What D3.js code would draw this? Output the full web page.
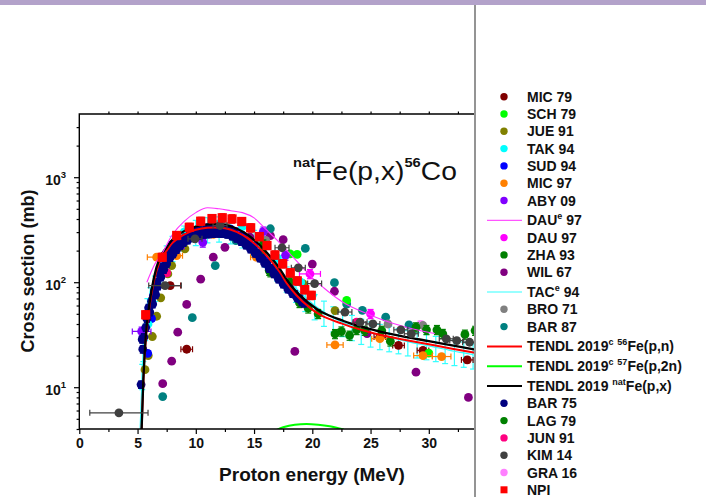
<!DOCTYPE html>
<html lang="en">
<head>
<meta charset="UTF-8">
<script src="https://cdnjs.cloudflare.com/ajax/libs/d3/7.8.5/d3.min.js"></script>
<title>natFe(p,x)56Co</title>
<style>
  body { margin: 0; background: #fff; }
  svg { display: block; font-family: Arial, "Liberation Sans", sans-serif; }
</style>
</head>
<body>
<svg width="706" height="497"></svg>
<script>
// ---- data: [energy MeV, cross section mb, (dE MeV)] ----
var MIC_79 = [[7.8, 93, 0.9], [9.22, 23], [25.8, 30], [27.4, 25], [29.5, 22.4], [33.3, 18.2]];
var SCH_79 = [[13.3, 298], [18.1, 186], [18.7, 184], [22.95, 67], [30.0, 21.1]];
var JUE_91 = [[5.64, 14.7], [5.92, 20], [6.27, 30.4], [6.64, 47.4], [6.99, 71], [7.6, 120], [7.93, 144],
              [9.07, 208], [10.5, 262], [12, 292], [19.2, 97], [21.95, 53.7]];
var TAK_94 = [[5.9, 40], [6.4, 80], [9, 300], [12, 360], [14, 340], [15.5, 262], [17, 170], [19, 100], [20, 75]];
var SUD_94 = [[5.87, 21], [6.2, 45], [6.35, 74], [6.6, 95], [7, 140], [8, 230], [9, 280], [10, 310], [11, 330],
              [12, 335], [13, 320], [14, 280], [15, 220], [16, 160], [17, 115]];
var MIC_97 = [[6.64, 173, 0.8], [8.36, 179, 0.5], [11.5, 285, 0.6], [12.9, 295, 0.6], [15.2, 173, 0.5],
              [21.95, 25.3, 0.7], [25.8, 29, 0.7], [29.5, 20, 0.8], [31.1, 19.6, 0.8]];
var ABY_09 = [[5.35, 34, 0.8], [8.8, 232], [10.6, 240], [13.5, 300], [15.8, 305], [17.7, 180]];
var DAU_97 = [[19.8, 120, 0.9], [25.0, 50]];
var ZHA_93 = [[21.95, 32.2], [22.5, 34.1], [23.2, 31.1], [23.8, 35.2], [24.5, 34.6], [25.96, 34.6], [26.7, 27.4],
              [28.9, 37.3], [29.8, 35.2], [30.7, 35.2], [31.2, 32.3], [33.1, 31.8], [33.97, 34.6]];
var WIL_67 = [[7.16, 10.8], [7.93, 17.7], [8.45, 33.4], [9.22, 61.4], [10.42, 107], [11.5, 173], [12.5, 215],
              [14.65, 269], [16.4, 278], [17.5, 254], [18.5, 21.9], [20.0, 149], [21.9, 82], [24.7, 32.4],
              [28.9, 13.9], [33.4, 8]];
var BRO_71 = [[12.6, 340], [16, 250], [26.5, 40], [29.5, 38.7]];
var BAR_87 = [[7.16, 8.15], [9.7, 46], [11.67, 144], [13.45, 249], [16.4, 323], [19.4, 210], [21.9, 99],
              [22.95, 62], [24.3, 54], [26.3, 46.5], [28.3, 39.3]];
var BAR_75 = [[5.3, 10.6], [5.4, 28.5], [5.45, 23], [5.55, 30], [5.7, 37], [5.8, 45], [5.95, 57], [6.05, 52],
              [6.2, 66], [6.3, 62], [6.45, 83], [6.55, 76], [6.65, 100], [6.75, 92], [6.9, 120], [7.0, 112],
              [7.15, 140], [7.25, 132], [7.4, 165], [7.5, 150], [7.65, 182], [7.8, 172], [7.9, 198], [8.05, 186],
              [8.2, 218], [8.35, 204], [8.5, 236], [8.65, 222], [8.8, 252], [8.95, 238], [9.1, 266], [9.3, 252],
              [9.45, 280], [9.6, 264], [9.8, 292], [9.95, 272], [10.1, 302], [10.3, 280], [10.5, 310], [10.7, 285],
              [10.9, 318], [11.1, 288], [11.3, 322], [11.5, 290], [11.7, 325], [11.9, 292], [12.1, 322], [12.3, 290],
              [12.5, 318], [12.7, 285], [12.9, 305], [13.1, 275], [13.3, 292], [13.5, 262], [13.7, 272], [13.9, 244],
              [14.1, 250], [14.3, 226], [14.5, 230], [14.7, 207], [14.9, 210], [15.1, 188], [15.3, 190], [15.5, 170],
              [15.7, 170], [15.9, 152], [16.1, 152], [16.3, 135], [16.5, 136], [16.7, 120], [16.9, 121], [17.1, 107],
              [17.3, 108], [17.5, 96], [17.7, 96], [17.9, 86], [18.1, 86], [18.3, 78], [18.5, 77], [18.7, 71],
              [18.9, 70], [19.1, 65], [19.3, 63]];
var LAG_79 = [[15.7, 193], [15.8, 230], [16.3, 129], [16.4, 125], [17.1, 112], [18.1, 100], [18.9, 63.7],
              [19.65, 56.5], [20.5, 50]];
var JUN_91 = [[7.5, 123], [23.8, 41.6]];
var KIM_14 = [[3.4, 5.7, 2.5], [7.36, 93, 1.4], [9.93, 259, 0.6], [12.08, 347, 0.6], [17.4, 213, 0.6],
              [18.8, 137, 0.6], [20.2, 97, 0.6], [22.8, 52, 0.6], [24.1, 41.6], [25.2, 40.1], [27.6, 35.2],
              [28.5, 32.3], [31.5, 28.9], [32.4, 27.8], [33.5, 26.8]];
var GRA_16 = [[29.3, 39.5]];
var NPI = [[5.7, 49], [7.12, 173], [8.36, 279], [9.44, 334], [10.42, 381], [11.39, 404], [12.27, 411],
           [13.11, 401], [13.94, 379], [14.71, 330], [15.45, 272], [16.11, 224], [16.79, 182], [17.46, 150],
           [18.11, 123], [18.71, 103], [19.35, 85], [19.91, 75]];

// curves
var DAU_E_97 = [[5.8, 100], [6.5, 150], [7, 180], [8, 285], [9, 380], [10, 460], [11, 512], [12, 500], [13, 480],
                [14, 460], [15, 410], [16, 320], [17, 250], [18, 190], [19, 145], [20, 110], [21, 88], [22, 72],
                [23, 61], [24, 54], [26, 44], [28, 37.5], [30.5, 32.5]];
var TAC_E_94 = [[5.22, 4], [5.3, 7], [5.4, 13], [5.5, 24], [5.65, 38], [5.85, 55], [6.1, 70], [6.5, 90], [7, 130],
                [7.5, 175], [8, 215], [9, 270], [10, 305], [11, 325], [12, 330], [13, 318], [14, 290], [15, 245],
                [16, 190], [17, 140], [17.8, 110], [18.6, 88], [19.4, 72], [20.2, 60], [21, 52], [21.8, 46],
                [22.6, 41.5], [23.4, 38], [24.2, 35], [25, 33], [25.8, 31.2], [26.6, 29.8], [27.4, 28.5],
                [28.2, 27.2], [29, 26], [29.8, 25], [30.6, 24], [31.4, 23], [32.2, 22], [33, 21.2], [33.8, 20.4]];
var TENDL_56 = [[5.35, 4], [5.5, 11.5], [5.7, 28], [6, 56], [6.4, 102], [6.9, 158], [7.5, 200], [8, 237],
                [8.6, 268], [9.5, 302], [10.5, 325], [11.5, 332], [12.5, 327], [13.5, 302], [14.5, 260],
                [15.5, 209], [16.5, 158], [17.2, 125], [17.8, 98], [18.6, 76], [19.8, 57], [20.8, 48],
                [21.5, 44.5], [22.5, 40.5], [23.2, 38], [24.5, 34.5], [26, 31.2], [28.1, 28], [30, 25.6],
                [32, 23.3], [34, 21.3]];
var TENDL_57 = [[16.9, 3.9], [17.5, 4.15], [18.5, 4.4], [19.5, 4.47], [20.5, 4.4], [21.5, 4.25], [22.7, 3.95]];
var TENDL_NAT = [[5.35, 4], [5.5, 12], [5.7, 30], [6, 60], [6.4, 110], [6.9, 170], [7.5, 215], [8, 255],
                 [8.6, 289], [9.5, 325], [10.5, 350], [11.5, 358], [12.5, 352], [13.5, 325], [14.5, 280],
                 [15.5, 225], [16.5, 170], [17.2, 135], [17.8, 106], [18.6, 82], [19.8, 62], [20.8, 52],
                 [21.5, 48], [22.5, 43.5], [23.2, 40.7], [24.5, 37], [26, 33.5], [28.1, 30], [30, 27.5],
                 [32, 25], [34, 22.8]];

var xTicks = [0, 5, 10, 15, 20, 25, 30];
var yTicks = [10, 100, 1000];

// legend entries: label parts [text, superscript?]
var legendItems = [
    { parts: [["MIC 79"]], type: "dot", color: "#800000" },
    { parts: [["SCH 79"]], type: "dot", color: "#00ff00" },
    { parts: [["JUE 91"]], type: "dot", color: "#808000" },
    { parts: [["TAK 94"]], type: "dot", color: "#00ffff" },
    { parts: [["SUD 94"]], type: "dot", color: "#0000ff" },
    { parts: [["MIC 97"]], type: "dot", color: "#ff8000" },
    { parts: [["ABY 09"]], type: "dot", color: "#8000ff" },
    { parts: [["DAU"], ["e", 1], [" 97"]], type: "line", color: "#ff55ff", w: 1.2 },
    { parts: [["DAU 97"]], type: "dot", color: "#ff00ff" },
    { parts: [["ZHA 93"]], type: "dot", color: "#008000" },
    { parts: [["WIL 67"]], type: "dot", color: "#800080" },
    { parts: [["TAC"], ["e", 1], [" 94"]], type: "line", color: "#33ffff", w: 1.2 },
    { parts: [["BRO 71"]], type: "dot", color: "#808080" },
    { parts: [["BAR 87"]], type: "dot", color: "#008080" },
    { parts: [["TENDL 2019"], ["c", 1], [" "], ["56", 1], ["Fe(p,n)"]], type: "line", color: "#ff0000", w: 2 },
    { parts: [["TENDL 2019"], ["c", 1], [" "], ["57", 1], ["Fe(p,2n)"]], type: "line", color: "#00ff00", w: 2 },
    { parts: [["TENDL 2019 "], ["nat", 1], ["Fe(p,x)"]], type: "line", color: "#000000", w: 2 },
    { parts: [["BAR 75"]], type: "dot", color: "#000080" },
    { parts: [["LAG 79"]], type: "dot", color: "#008000" },
    { parts: [["JUN 91"]], type: "dot", color: "#ff0080" },
    { parts: [["KIM 14"]], type: "dot", color: "#404040" },
    { parts: [["GRA 16"]], type: "dot", color: "#ff80ff" },
    { parts: [["NPI"]], type: "square", color: "#ff0000" }
];

var svg = d3.select("svg");
// plot frame edges (window.top is reserved, so prefixed names)
var pLeft = 79.3, pRight = 474, pTop = 114, pBottom = 429;

var x = d3.scaleLinear().domain([0, 35]).range([pLeft, pLeft + 35 * 11.65]);
var y = d3.scaleLog().domain([4, 4000]).range([pBottom, pTop]);

// header band and divider
svg.append("rect").attr("x", 0).attr("y", 0).attr("width", 706).attr("height", 5).attr("fill", "#b3a2ca");
svg.append("line").attr("x1", 475).attr("x2", 475).attr("y1", 5).attr("y2", 497)
    .attr("stroke", "#707070").attr("stroke-width", 1.5);

svg.append("clipPath").attr("id", "plotclip")
    .append("rect").attr("x", pLeft).attr("y", pTop).attr("width", pRight - pLeft).attr("height", pBottom - pTop);

var plot = svg.append("g").attr("clip-path", "url(#plotclip)");
var line = d3.line().x(d => x(d[0])).y(d => y(d[1])).curve(d3.curveMonotoneX);
var R = 4.4;

function errorBars(g, data, color, rel, dx) {
    var eb = g.append("g").attr("stroke", color).attr("stroke-width", 1.2).attr("fill", "none");
    data.forEach(d => {
        var cx = x(d[0]), cy = y(d[1]);
        if (rel > 0) {
            var y1 = y(d[1] * (1 + rel)), y2 = y(d[1] * (1 - rel));
            eb.append("line").attr("x1", cx).attr("x2", cx).attr("y1", y1).attr("y2", y2);
            eb.append("line").attr("x1", cx - 3).attr("x2", cx + 3).attr("y1", y1).attr("y2", y1);
            eb.append("line").attr("x1", cx - 3).attr("x2", cx + 3).attr("y1", y2).attr("y2", y2);
        }
        var h = d[2] !== undefined ? d[2] : dx;
        if (h > 0) {
            var x1 = x(d[0] - h), x2 = x(d[0] + h);
            eb.append("line").attr("x1", x1).attr("x2", x2).attr("y1", cy).attr("y2", cy);
            eb.append("line").attr("x1", x1).attr("x2", x1).attr("y1", cy - 3).attr("y2", cy + 3);
            eb.append("line").attr("x1", x2).attr("x2", x2).attr("y1", cy - 3).attr("y2", cy + 3);
        }
    });
}

function dots(data, color, rel, dx) {
    var g = plot.append("g");
    errorBars(g, data, color, rel, dx);
    g.selectAll("circle").data(data).enter().append("circle")
        .attr("cx", d => x(d[0])).attr("cy", d => y(d[1])).attr("r", R).attr("fill", color);
}

function curve(data, color, w) {
    plot.append("path").datum(data).attr("d", line)
        .attr("fill", "none").attr("stroke", color).attr("stroke-width", w);
}

// TAC^e 94 with its uncertainty bars
errorBars(plot.append("g"), TAC_E_94.filter(d => d[0] >= 5.4), "#33ffff", 0.27, 0);
curve(TAC_E_94, "#33ffff", 1.2);

dots(WIL_67, "#800080", 0, 0);
dots(BAR_87, "#008080", 0, 0);
dots(MIC_79, "#800000", 0.06, 0.5);
dots(JUE_91, "#808000", 0, 0);
dots(SCH_79, "#00ff00", 0, 0);
dots(MIC_97, "#ff8000", 0.05, 0);
dots(ABY_09, "#8000ff", 0.1, 0);
dots(SUD_94, "#0000ff", 0.06, 0);
dots(TAK_94, "#00ffff", 0.06, 0);
dots(JUN_91, "#ff0080", 0.06, 0);
dots(GRA_16, "#ff80ff", 0.08, 0);
dots(BRO_71, "#808080", 0.06, 0);
dots(ZHA_93, "#008000", 0.1, 0);
dots(LAG_79, "#008000", 0.1, 0);
dots(DAU_97, "#ff00ff", 0.1, 0);
dots(BAR_75, "#000080", 0.08, 0.18);

curve(TENDL_56, "#ff0000", 2);
curve(TENDL_57, "#00ff00", 2);
curve(TENDL_NAT, "#000000", 2.3);
curve(DAU_E_97, "#ff33ff", 1.1);

dots(KIM_14, "#404040", 0.05, 0.6);

var npi = plot.append("g");
errorBars(npi, NPI, "#e00000", 0.09, 0.25);
npi.selectAll("rect").data(NPI).enter().append("rect")
    .attr("x", d => x(d[0]) - 4.6).attr("y", d => y(d[1]) - 4.6)
    .attr("width", 9.2).attr("height", 9.2).attr("fill", "#ff0000");

// ---- axes ----
function styleAxis(g) {
    g.select(".domain").remove();
    g.selectAll(".tick line").attr("stroke", "#000").attr("stroke-width", 1.2);
}

var minorX = d3.range(0, 34, 2.5).filter(v => v % 5 !== 0);
svg.append("g").attr("transform", "translate(0," + pBottom + ")")
    .call(d3.axisBottom(x).tickValues(xTicks).tickSize(5).tickPadding(4).tickFormat(d3.format("d")))
    .call(styleAxis)
    .selectAll("text").attr("font-size", 14).attr("font-weight", "bold").attr("fill", "#111")
    .attr("font-family", "Arial, 'Liberation Sans', sans-serif");
svg.append("g").attr("transform", "translate(0," + pBottom + ")")
    .call(d3.axisBottom(x).tickValues(minorX).tickSize(3).tickFormat(""))
    .call(styleAxis);
svg.append("g").attr("transform", "translate(0," + pTop + ")")
    .call(d3.axisTop(x).tickValues(d3.range(2.5, 34, 2.5)).tickSize(2.5).tickFormat(""))
    .call(styleAxis);

var minorY = [];
[1, 10, 100, 1000].forEach(p => d3.range(2, 10).forEach(m => {
    var v = p * m;
    if (v >= 4 && v < 4000) minorY.push(v);
}));
svg.append("g").attr("transform", "translate(" + pLeft + ",0)")
    .call(d3.axisLeft(y).tickValues(minorY).tickSize(2.7).tickFormat(""))
    .call(styleAxis);
var yAxis = svg.append("g").attr("transform", "translate(" + pLeft + ",0)")
    .call(d3.axisLeft(y).tickValues(yTicks).tickSize(5.3).tickPadding(8))
    .call(styleAxis);
yAxis.selectAll(".tick text")
    .attr("font-family", "Arial, 'Liberation Sans', sans-serif").attr("font-weight", "bold")
    .attr("font-size", 14).attr("fill", "#111").attr("dy", "0.55em")
    .text(null)
    .each(function (d) {
        var t = d3.select(this);
        t.append("tspan").text("10");
        t.append("tspan").attr("font-size", 9.5).attr("dy", "-0.75em").text(Math.round(Math.log10(d)));
    });

// frame
svg.append("path")
    .attr("d", "M" + pRight + "," + pTop + "H" + pLeft + "V" + pBottom + "H" + pRight)
    .attr("fill", "none").attr("stroke", "#000").attr("stroke-width", 1.4);

// axis titles
svg.append("text").attr("x", 312).attr("y", 481).attr("text-anchor", "middle")
    .attr("font-size", 19).attr("font-weight", "bold").attr("fill", "#111").text("Proton energy (MeV)");
svg.append("text").attr("transform", "translate(34,271) rotate(-90)").attr("text-anchor", "middle")
    .attr("font-size", 18).attr("font-weight", "bold").attr("fill", "#111").text("Cross section (mb)");

// reaction label (drawn slightly wide, as in the source image)
var ttl = svg.append("text").attr("transform", "translate(293,180) scale(1.13,1)").attr("fill", "#111");
ttl.append("tspan").attr("font-size", 13).attr("font-weight", "bold").attr("dy", -13).text("nat");
ttl.append("tspan").attr("font-size", 25).attr("dy", 13).text("Fe(p,x)");
ttl.append("tspan").attr("font-size", 13).attr("font-weight", "bold").attr("dy", -13).text("56");
ttl.append("tspan").attr("font-size", 25).attr("dy", 13).text("Co");

// ---- legend ----
var ly = 96.7;
var legend = svg.append("g");
legendItems.forEach((it, i) => {
    if (i > 0) ly += 17.3 + (it.type === "line" ? 2.5 : 0);
    var g = legend.append("g").attr("transform", "translate(0," + ly + ")");
    if (it.type === "dot") {
        g.append("circle").attr("cx", 504).attr("cy", 0).attr("r", 3.7).attr("fill", it.color);
    } else if (it.type === "square") {
        g.append("rect").attr("x", 500.5).attr("y", -3.5).attr("width", 7).attr("height", 7).attr("fill", it.color);
    } else {
        g.append("line").attr("x1", 487).attr("x2", 522).attr("y1", 0).attr("y2", 0)
            .attr("stroke", it.color).attr("stroke-width", it.w);
    }
    var t = g.append("text").attr("x", 527).attr("y", 5).attr("font-size", 14)
        .attr("font-weight", "bold").attr("fill", "#111");
    var up = false;
    it.parts.forEach(p => {
        var s = t.append("tspan").text(p[0]);
        if (p[1] && !up) { s.attr("font-size", 9).attr("dy", -6); up = true; }
        else if (p[1] && up) { s.attr("font-size", 9); }
        else if (!p[1] && up) { s.attr("dy", 6); up = false; }
    });
});
</script>
</body>
</html>
